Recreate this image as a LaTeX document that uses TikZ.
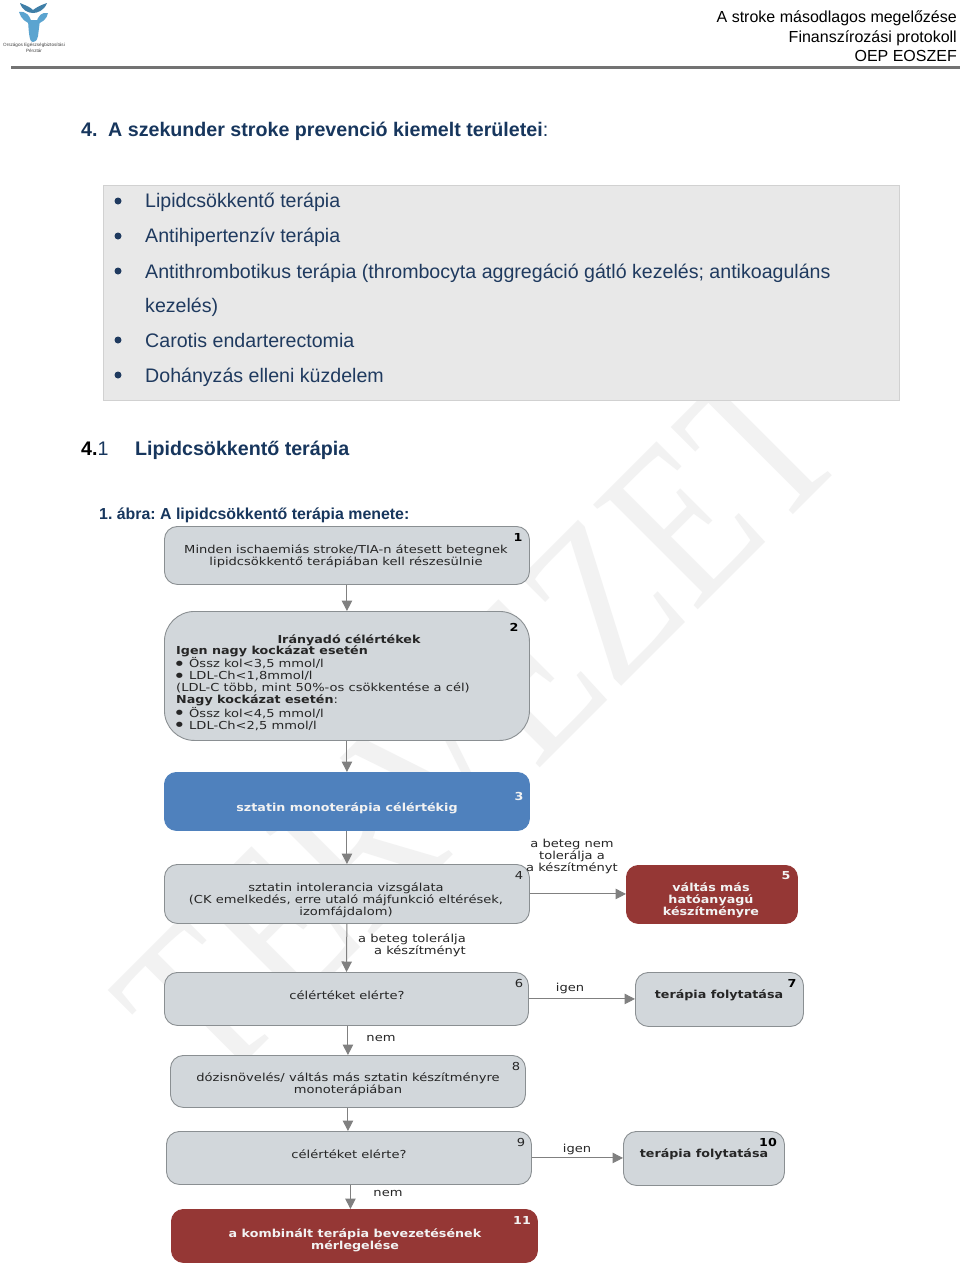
\documentclass[tikz,border=0pt]{standalone}
\usepackage{fontspec}
\setmainfont{Liberation Sans}
\newfontfamily\chartfont[FakeStretch=1.188,BoldFeatures={FakeStretch=1.155}]{DejaVu Sans}
\newfontfamily\wmfont{Liberation Serif}
\usetikzlibrary{arrows.meta,calc}
\definecolor{headblue}{HTML}{17365D}
\definecolor{listtxt}{HTML}{1F3A5F}
\definecolor{boxgrey}{HTML}{D2D7DB}
\definecolor{boxline}{HTML}{8A8F92}
\definecolor{flowblue}{HTML}{4F81BD}
\definecolor{flowred}{HTML}{953735}
\definecolor{arrowgrey}{HTML}{808080}
\definecolor{logoblue}{HTML}{5BA4D0}
\definecolor{logodark}{HTML}{3F7FA8}
\AtBeginDocument{\frenchspacing}
\tikzset{
  flow/.style={draw=boxline,line width=0.9pt,fill=boxgrey,rounded corners=#1,anchor=north west,inner sep=0pt},
  flow/.default=13pt,
  bluebox/.style={flow=12pt,draw=flowblue,fill=flowblue},
  redbox/.style={flow=12pt,draw=flowred,fill=flowred},
  ctext/.style={font=\chartfont\fontsize{11}{12}\selectfont,text=black!85,align=center,inner sep=0pt},
  cbold/.style={ctext,font=\chartfont\bfseries\fontsize{11}{12}\selectfont},
  ltext/.style={ctext,align=left,anchor=north west},
  numtext/.style={font=\chartfont\bfseries\fontsize{11}{12}\selectfont,inner sep=0pt},
  edge/.style={draw=arrowgrey,line width=1pt,-{Triangle[length=10.5pt,width=10.5pt]}},
  listitem/.style={anchor=base west,inner sep=0pt,font=\fontsize{19.6}{24}\selectfont,text=listtxt},
  bul/.style={circle,fill=listtxt,inner sep=0pt,minimum size=7pt},
  head/.style={anchor=base west,inner sep=0pt,font=\bfseries\fontsize{19.65}{24}\selectfont,text=headblue},
  hdr/.style={anchor=base east,inner sep=0pt,font=\fontsize{16}{19}\selectfont,text=black}
}
\newcommand{\flowbox}[6]{% name style x1 y1 x2 y2
  \node[#2,minimum width=#5pt-#3pt,minimum height=#6pt-#4pt] (#1) at (#3,#4) {};}
\newcommand{\fb}{\makebox[13pt][l]{\hspace*{-3pt}\raisebox{-2.6pt}{\fontsize{18}{12}\selectfont •}}}
\begin{document}
\begin{tikzpicture}[x=1pt,y=-1pt]
\useasboundingbox (0,0) rectangle (960,1266);
\fill[white] (0,0) rectangle (960,1266);
% watermark
\node[rotate=45,anchor=base,inner sep=0pt,text=black!5,font=\wmfont\fontsize{226}{226}\selectfont] (wm) at (531,777) {\scalebox{0.807}[1]{TERVEZET}};
% logo
\fill[logodark] (20,3) .. controls (27,6) and (30,7) .. (33,10) .. controls (37,7) and (41,5) .. (47,3) .. controls (44,11) and (37,13) .. (33,13) .. controls (28,13) and (22,10) .. (20,3) -- cycle;
\fill[logoblue] (19,12) .. controls (26,11) and (30,15) .. (32,24) .. controls (26,23) and (21,19) .. (19,12) -- cycle;
\fill[logoblue] (48,13) .. controls (42,12) and (38,15) .. (36,24) .. controls (42,23) and (47,19) .. (48,13) -- cycle;
\fill[logoblue] (28,20) -- (40,20) -- (38,36) .. controls (37,41) and (35,42) .. (33,42) .. controls (30,42) and (29,38) .. (28,20) -- cycle;
\node[inner sep=0pt,align=center,font=\fontsize{4.6}{6}\selectfont,text=black!75] (logotext) at (34,48) {Országos Egészségbiztosítási\\Pénztár};
% header
\node[hdr] (h1) at (957,23) {A stroke másodlagos megelőzése};
\node[hdr] (h2) at (957,42) {Finanszírozási protokoll};
\node[hdr] (h3) at (957,61) {OEP EOSZEF};
\fill[black!55] (11,65.5) rectangle (960,68.5);
% headings
\node[head] (t4) at (81,136) {\makebox[27pt][l]{4.}A szekunder stroke prevenció kiemelt területei{\mdseries :}};
% list box
\node[draw=black!18,fill=black!9,anchor=north west,minimum width=796.5pt,minimum height=214.5pt,inner sep=0pt] (listbox) at (102.5,185) {};
\node[bul] (b1) at (118,201) {};
\node[bul] (b2) at (118,236) {};
\node[bul] (b3) at (118,271) {};
\node[bul] (b4) at (118,340) {};
\node[bul] (b5) at (118,375) {};
\node[listitem] (l1) at (145,207) {Lipidcsökkentő terápia};
\node[listitem] (l2) at (145,242) {Antihipertenzív terápia};
\node[listitem] (l3) at (145,278) {Antithrombotikus terápia (thrombocyta aggregáció gátló kezelés; antikoaguláns};
\node[listitem] (l3b) at (145,312) {kezelés)};
\node[listitem] (l4) at (145,347) {Carotis endarterectomia};
\node[listitem] (l5) at (145,382) {Dohányzás elleni küzdelem};
\node[head] (t41) at (81,455) {\makebox[54pt][l]{\textcolor{black}{4.}{\mdseries 1}}Lipidcsökkentő terápia};
\node[anchor=base west,inner sep=0pt,font=\bfseries\fontsize{15.9}{19}\selectfont,text=headblue] (cap) at (99,519) {1. ábra: A lipidcsökkentő terápia menete:};
% flow boxes
\flowbox{n1}{flow}{164}{526}{529}{584}
\flowbox{n2}{flow=30pt}{164}{611}{529}{740}
\flowbox{n3}{bluebox}{164}{772}{529}{830}
\flowbox{n4}{flow}{164}{864}{529}{923}
\flowbox{n5}{redbox}{626}{865}{797}{923}
\flowbox{n6}{flow}{164}{972}{528}{1025}
\flowbox{n7}{flow}{635}{972}{803}{1026}
\flowbox{n8}{flow}{170}{1055}{525}{1107}
\flowbox{n9}{flow}{166}{1131}{531}{1184}
\flowbox{n10}{flow}{623}{1131}{784}{1185}
\flowbox{n11}{redbox}{171}{1209}{537}{1262}
% connectors
\draw[edge] (n1) -- (n2);
\draw[edge] (n2) -- (n3);
\draw[edge] (n3) -- (n4);
\draw[edge] (n4) -- (n6);
\draw[edge] (n6.south -| n8.south) -- (n8.north);
\draw[edge] (n8.south) -- (n9.north -| n8.south);
\draw[edge] ([xshift=1.5pt]n9.south) -- ([xshift=-4pt]n11.north);
\draw[edge] (n4.east) -- (n5.west |- n4.east);
\draw[edge] (n6.east) -- (n7.west |- n6.east);
\draw[edge] (n9.east) -- (n10.west |- n9.east);
% texts
\node[ctext] (x1) at (346,556) {Minden ischaemiás stroke/TIA-n átesett betegnek\\lipidcsökkentő terápiában kell részesülnie};
\node[cbold] (x2h) at (349,640) {Irányadó célértékek};
\node[ltext] (x2) at (176,645.5) {\textbf{Igen nagy kockázat esetén}\\\fb Össz kol<3,5 mmol/l\\\fb LDL-Ch<1,8mmol/l\\(LDL-C több, mint 50\%-os csökkentése a cél)\\\textbf{Nagy kockázat esetén}:\\\fb Össz kol<4,5 mmol/l\\\fb LDL-Ch<2,5 mmol/l};
\node[cbold,text=black!5] (x3) at (347,808) {sztatin monoterápia célértékig};
\node[ctext] (x4) at (346,900) {sztatin intolerancia vizsgálata\\(CK emelkedés, erre utaló májfunkció eltérések,\\izomfájdalom)};
\node[cbold,text=black!5] (x5) at (711,900) {váltás más\\hatóanyagú\\készítményre};
\node[ctext] (x6) at (347,995) {célértéket elérte?};
\node[cbold] (x7) at (719,995) {terápia folytatása};
\node[ctext] (x8) at (348,1084) {dózisnövelés/ váltás más sztatin készítményre\\monoterápiában};
\node[ctext] (x9) at (349,1154) {célértéket elérte?};
\node[cbold] (x10) at (704,1154) {terápia folytatása};
\node[cbold,text=black!5] (x11) at (355,1240) {a kombinált terápia bevezetésének\\mérlegelése};
% edge labels
\node[ctext] (e45) at (572,856) {a beteg nem\\tolerálja a\\a készítményt};
\node[ctext,align=right] (e46) at (412,945) {a beteg tolerálja\\a készítményt};
\node[ctext] (e67) at (570,988) {igen};
\node[ctext] (e68) at (381,1038) {nem};
\node[ctext] (e910) at (577,1149) {igen};
\node[ctext] (e911) at (388,1193) {nem};
% numbers
\node[numtext] (c1) at (518,537) {1};
\node[numtext] (c2) at (514,627) {2};
\node[numtext,text=black!5] (c3) at (519,796) {3};
\node[ctext] (c4) at (519,875) {4};
\node[numtext,text=black!5] (c5) at (786,876) {5};
\node[ctext] (c6) at (519,983) {6};
\node[numtext] (c7) at (792,983) {7};
\node[ctext] (c8) at (516,1066) {8};
\node[ctext] (c9) at (521,1142) {9};
\node[numtext] (c10) at (768,1142) {10};
\node[numtext,text=black!5] (c11) at (522,1220) {11};
\end{tikzpicture}
\end{document}
